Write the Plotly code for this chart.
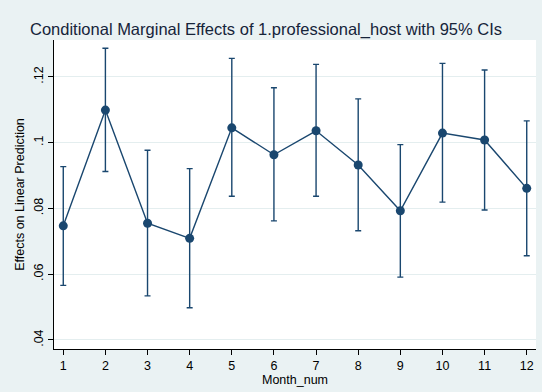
import plotly.graph_objects as go

months = [1, 2, 3, 4, 5, 6, 7, 8, 9, 10, 11, 12]
effects = [0.0747, 0.1099, 0.0755, 0.0709, 0.1045, 0.0963, 0.1036, 0.0932, 0.0793, 0.1029, 0.1008, 0.0861]
upper = [0.0927, 0.1287, 0.0977, 0.0921, 0.1256, 0.1167, 0.1238, 0.1133, 0.0994, 0.1241, 0.1221, 0.1066]
lower = [0.0566, 0.0912, 0.0534, 0.0498, 0.0837, 0.0762, 0.0837, 0.0732, 0.0591, 0.0819, 0.0795, 0.0656]
ytick_vals = [0.04, 0.06, 0.08, 0.1, 0.12]
ytick_text = [".04", ".06", ".08", ".1", ".12"]

navy = "#1a476f"
bg = "#eaf2f3"

fig = go.Figure()
fig.add_trace(go.Scatter(
    x=months, y=effects, mode="lines+markers",
    line=dict(color=navy, width=1.4),
    marker=dict(color=navy, size=9),
    error_y=dict(type="data", symmetric=False,
                 array=[u - e for u, e in zip(upper, effects)],
                 arrayminus=[e - l for e, l in zip(effects, lower)],
                 color=navy, thickness=1.4, width=3),
    showlegend=False,
))

fig.update_layout(
    width=542, height=392,
    margin=dict(l=54, r=6, t=40, b=43),
    paper_bgcolor=bg, plot_bgcolor="white",
    font=dict(family="Liberation Sans, Arial, sans-serif", color="#000000", size=12.5),
    title=dict(text="Conditional Marginal Effects of 1.professional_host with 95% CIs",
               x=266 / 542, xanchor="center", y=1 - 29 / 392, yanchor="middle",
               font=dict(size=16.5, color="#16243a")),
    xaxis=dict(range=[0.78, 12.22], tickvals=months, ticks="outside", ticklen=5,
               tickcolor="#000", showline=True, linecolor="#000", linewidth=1,
               showgrid=False, zeroline=False,
               title=dict(text="Month_num", standoff=2, font=dict(size=12.5))),
    yaxis=dict(range=[0.03726, 0.1312], tickvals=ytick_vals, ticktext=ytick_text,
               tickangle=-90, ticks="outside", ticklen=5, tickcolor="#000",
               showline=True, linecolor="#000", linewidth=1,
               showgrid=True, gridcolor="#e4eeef", gridwidth=1, zeroline=False,
               title=dict(text="Effects on Linear Prediction", standoff=4, font=dict(size=12.5))),
)

fig.write_html("out.html")
